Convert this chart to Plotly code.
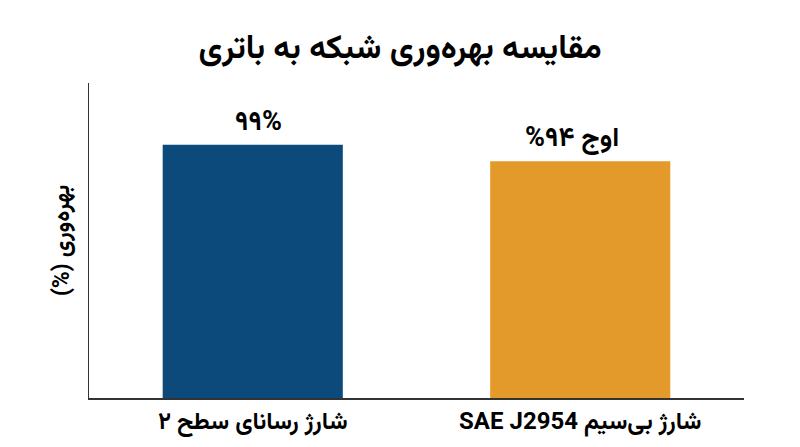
import plotly.graph_objects as go

categories = ["شارژ رسانای سطح ۲", "شارژ بی\u200cسیم SAE J2954"]
efficiency = [99, 94]
labels = ["۹۹%", "اوج ۹۴%"]
colors = ["#0B4A7A", "#E39A2A"]

font_fa = "Vazirmatn, DejaVu Sans, sans-serif"


def rtl(s):
    # force right-to-left order in the svg text
    return "\u202b" + s + "\u202c"


fig = go.Figure()
fig.add_trace(go.Bar(x=categories, y=efficiency, marker_color=colors,
                     marker_line_width=0, width=0.55))

for i, (c, v, t) in enumerate(zip(categories, efficiency, labels)):
    fig.add_annotation(x=c, y=v, text="<b>" + rtl(t) + "</b>", showarrow=False,
                       yanchor="bottom", yshift=-2, xshift=6 if i == 0 else -8,
                       font=dict(size=27, color="black", family=font_fa))

fig.update_layout(
    width=800, height=447,
    plot_bgcolor="white", paper_bgcolor="white",
    margin=dict(l=81, r=64, t=75, b=57),
    title=dict(text="<b>" + rtl("مقایسه بهره\u200cوری شبکه به باتری") + "</b>",
               x=0.49, xanchor="center", y=0.915, yanchor="middle",
               font=dict(size=33, color="black", family=font_fa)),
    showlegend=False,
)
fig.update_xaxes(showline=True, linecolor="#333", linewidth=1.5, ticks="",
                 automargin=False,
                 tickvals=categories, ticktext=["<b>" + rtl(c) + "</b>" for c in categories],
                 tickfont=dict(size=24, color="black", family=font_fa))
fig.update_yaxes(range=[23, 117.5], showline=True, linecolor="#333", linewidth=1,
                 showgrid=False, zeroline=False, showticklabels=False, ticks="",
                 automargin=False,
                 title=dict(text="<b>" + rtl("بهره\u200cوری (%)") + "</b>", standoff=11,
                            font=dict(size=23, color="black", family=font_fa)))

fig.write_html("out.html")
